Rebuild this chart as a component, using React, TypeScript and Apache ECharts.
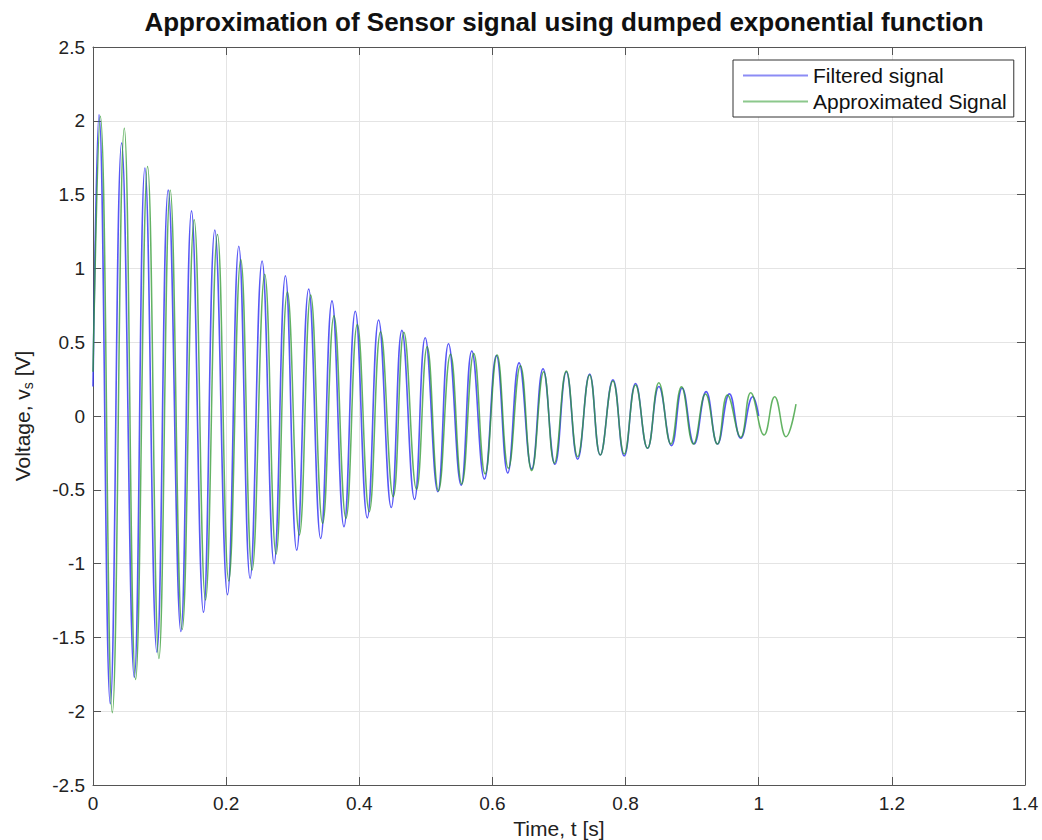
import React, { useEffect, useRef } from "react";
import * as echarts from "echarts";

// Filtered signal (blue): start, peaks, troughs, end
const filteredStart: [number, number] = [0, 0.2];
const filteredEnd: [number, number] = [1.0, 0.0];
const filteredPeakT = [0.009, 0.043, 0.078, 0.113, 0.148, 0.183, 0.219, 0.254, 0.289, 0.324, 0.359, 0.394, 0.429, 0.464, 0.499, 0.534, 0.569, 0.606, 0.64, 0.676, 0.711, 0.746, 0.781, 0.815, 0.85, 0.885, 0.921, 0.956, 0.991];
const filteredPeakV = [2.04, 1.85, 1.68, 1.53, 1.39, 1.26, 1.15, 1.05, 0.95, 0.86, 0.78, 0.71, 0.65, 0.58, 0.53, 0.49, 0.44, 0.41, 0.36, 0.32, 0.3, 0.285, 0.245, 0.22, 0.2, 0.19, 0.165, 0.15, 0.13];
const filteredTroughT = [0.026, 0.062, 0.096, 0.132, 0.166, 0.202, 0.236, 0.272, 0.306, 0.342, 0.377, 0.412, 0.448, 0.483, 0.518, 0.553, 0.588, 0.623, 0.659, 0.694, 0.728, 0.762, 0.798, 0.833, 0.869, 0.903, 0.938, 0.973];
const filteredTroughV = [-1.95, -1.77, -1.6, -1.46, -1.33, -1.21, -1.1, -1.0, -0.91, -0.83, -0.75, -0.69, -0.62, -0.565, -0.513, -0.468, -0.427, -0.386, -0.36, -0.327, -0.293, -0.264, -0.271, -0.219, -0.201, -0.19, -0.19, -0.151];

// Approximated signal (green)
const approxStart: [number, number] = [0, 0.3];
const approxEnd: [number, number] = [1.056, 0.08];
const approxPeakT = [0.011, 0.047, 0.082, 0.116, 0.152, 0.187, 0.222, 0.258, 0.292, 0.327, 0.362, 0.397, 0.432, 0.467, 0.502, 0.537, 0.572, 0.607, 0.642, 0.677, 0.711, 0.746, 0.781, 0.815, 0.85, 0.884, 0.92, 0.953, 0.988, 1.024];
const approxPeakV = [2.03, 1.95, 1.69, 1.53, 1.33, 1.23, 1.06, 0.96, 0.84, 0.82, 0.68, 0.62, 0.57, 0.567, 0.47, 0.418, 0.424, 0.413, 0.341, 0.3, 0.305, 0.278, 0.237, 0.21, 0.226, 0.199, 0.149, 0.142, 0.158, 0.131];
const approxTroughT = [0.029, 0.064, 0.099, 0.134, 0.169, 0.204, 0.239, 0.275, 0.31, 0.345, 0.38, 0.415, 0.451, 0.486, 0.519, 0.554, 0.589, 0.624, 0.659, 0.693, 0.728, 0.762, 0.798, 0.833, 0.868, 0.902, 0.938, 0.973, 1.008, 1.041];
const approxTroughV = [-2.01, -1.785, -1.643, -1.446, -1.247, -1.118, -1.043, -0.935, -0.806, -0.727, -0.694, -0.648, -0.547, -0.497, -0.506, -0.461, -0.393, -0.354, -0.37, -0.32, -0.276, -0.264, -0.257, -0.219, -0.19, -0.19, -0.19, -0.144, -0.129, -0.14];

const xTicks = [0, 0.2, 0.4, 0.6, 0.8, 1, 1.2, 1.4];
const yTicks = [-2.5, -2, -1.5, -1, -0.5, 0, 0.5, 1, 1.5, 2, 2.5];

function buildSeries(start: [number, number], pT: number[], pV: number[], tT: number[], tV: number[], end: [number, number]) {
  const pts: [number, number][] = [start];
  pT.forEach((t, i) => pts.push([t, pV[i]]));
  tT.forEach((t, i) => pts.push([t, tV[i]]));
  pts.push(end);
  pts.sort((a, b) => a[0] - b[0]);
  return pts;
}

export default function App() {
  const ref = useRef<HTMLDivElement>(null);
  useEffect(() => {
    if (!ref.current) return;
    const chart = echarts.init(ref.current, undefined, { renderer: "svg" });
    const font = "'Liberation Sans', Arial, sans-serif";
    const axisColor = "#555";
    chart.setOption({
      animation: false,
      backgroundColor: "#fff",
      title: {
        text: "Approximation of Sensor signal using dumped exponential function",
        left: 559,
        top: 4,
        textAlign: "center",
        textStyle: { fontFamily: font, fontSize: 26, fontWeight: "bold", color: "#111" },
      },
      legend: {
        orient: "vertical",
        left: 733,
        top: 60,
        padding: [5, 7, 5, 10],
        itemGap: 5,
        itemWidth: 65,
        itemHeight: 2,
        icon: "rect",
        backgroundColor: "#fff",
        borderColor: "#333",
        borderWidth: 1,
        borderRadius: 0,
        textStyle: { fontFamily: font, fontSize: 21, color: "#111" },
        data: [
          { name: "Filtered signal", itemStyle: { color: "#8c8cf5" } },
          { name: "Approximated Signal", itemStyle: { color: "#8cc88c" } },
        ],
      },
      grid: { left: 93, right: 17, top: 47, bottom: 55, containLabel: false, outerBoundsMode: "none" },
      xAxis: [
        {
          type: "value",
          min: xTicks[0],
          max: xTicks[xTicks.length - 1],
          interval: 0.2,
          name: "Time, t [s]",
          nameLocation: "middle",
          nameGap: 30,
          nameTextStyle: { fontFamily: font, fontSize: 21, color: "#222" },
          axisLine: { show: true, onZero: false, lineStyle: { color: axisColor } },
          axisTick: { show: true, inside: true, length: 8, lineStyle: { color: axisColor } },
          axisLabel: { fontFamily: font, fontSize: 19, color: "#222", margin: 9, formatter: (v: number) => String(+v.toFixed(1)) },
          splitLine: { show: true, lineStyle: { color: "#e4e4e4", width: 1 } },
        },
        {
          type: "value",
          position: "top",
          min: xTicks[0],
          max: xTicks[xTicks.length - 1],
          interval: 0.2,
          axisLine: { show: true, onZero: false, lineStyle: { color: axisColor } },
          axisTick: { show: true, inside: true, length: 8, lineStyle: { color: axisColor } },
          axisLabel: { show: false },
          splitLine: { show: false },
        },
      ],
      yAxis: [
        {
          type: "value",
          min: yTicks[0],
          max: yTicks[yTicks.length - 1],
          interval: 0.5,
          name: "Voltage, v{sub|s} [V]",
          nameLocation: "middle",
          nameGap: 58,
          nameRotate: 90,
          nameTextStyle: {
            fontFamily: font,
            fontSize: 21,
            color: "#222",
            rich: { sub: { fontFamily: font, fontSize: 14, color: "#222", verticalAlign: "bottom", padding: [12, 0, 0, 0] } },
          },
          axisLine: { show: true, onZero: false, lineStyle: { color: axisColor } },
          axisTick: { show: true, inside: true, length: 8, lineStyle: { color: axisColor } },
          axisLabel: { fontFamily: font, fontSize: 19, color: "#222", margin: 8 },
          splitLine: { show: true, lineStyle: { color: "#e4e4e4", width: 1 } },
        },
        {
          type: "value",
          position: "right",
          min: yTicks[0],
          max: yTicks[yTicks.length - 1],
          interval: 0.5,
          axisLine: { show: true, onZero: false, lineStyle: { color: axisColor } },
          axisTick: { show: true, inside: true, length: 8, lineStyle: { color: axisColor } },
          axisLabel: { show: false },
          splitLine: { show: false },
        },
      ],
      series: [
        {
          name: "Filtered signal",
          type: "line",
          data: buildSeries(filteredStart, filteredPeakT, filteredPeakV, filteredTroughT, filteredTroughV, filteredEnd),
          smooth: 0.45,
          showSymbol: false,
          lineStyle: { color: "#3a3af5", width: 1.6, opacity: 0.85 },
          itemStyle: { color: "#8c8cf5" },
          z: 2,
        },
        {
          name: "Approximated Signal",
          type: "line",
          data: buildSeries(approxStart, approxPeakT, approxPeakV, approxTroughT, approxTroughV, approxEnd),
          smooth: 0.45,
          showSymbol: false,
          lineStyle: { color: "#2f9a2f", width: 1.5, opacity: 0.75 },
          itemStyle: { color: "#8cc88c" },
          z: 3,
        },
      ],
    });
    return () => chart.dispose();
  }, []);
  return <div ref={ref} style={{ position: "fixed", left: 0, top: 0, width: 1042, height: 840 }} />;
}
